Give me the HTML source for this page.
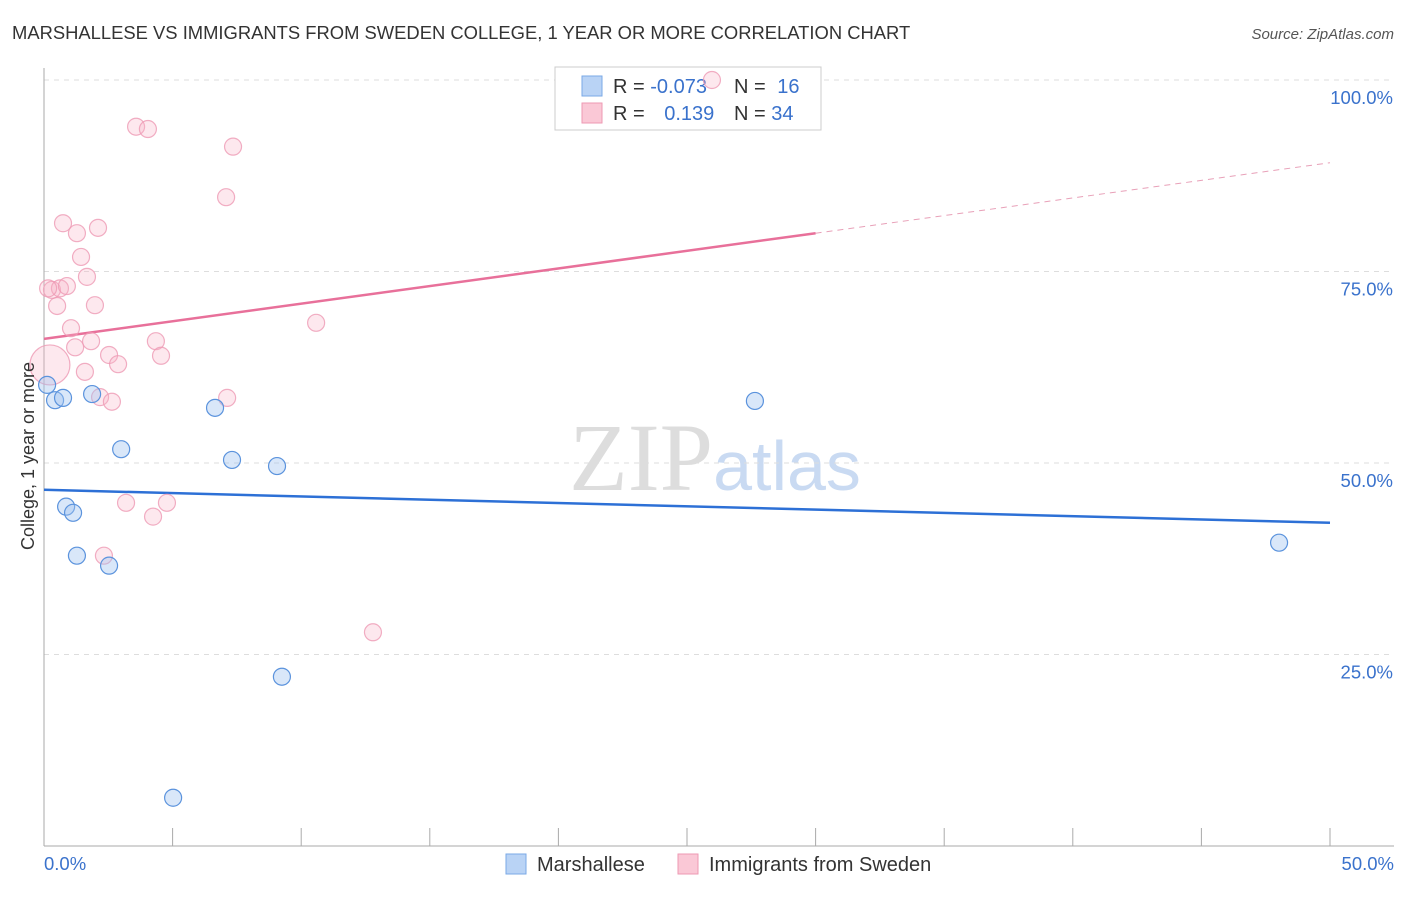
<!DOCTYPE html>
<html><head><meta charset="utf-8"><style>
body{margin:0;background:#fff;font-family:"Liberation Sans",sans-serif}
</style></head><body>
<svg id="chart" width="1406" height="892" xmlns="http://www.w3.org/2000/svg" font-family="Liberation Sans, sans-serif">
<text x="12" y="39" font-size="18.4" fill="#333">MARSHALLESE VS IMMIGRANTS FROM SWEDEN COLLEGE, 1 YEAR OR MORE CORRELATION CHART</text>
<text x="1394" y="39" font-size="15" fill="#555" text-anchor="end" font-style="italic">Source: ZipAtlas.com</text>
<text x="715" y="490" font-size="96" text-anchor="middle" fill="#ddd" font-family="Liberation Serif, serif">ZIP<tspan fill="#c9daf2" font-family="Liberation Sans, sans-serif" font-size="70">atlas</tspan></text>
<g id="grid"></g><g id="axes"></g><g id="lines"></g>
<g>
<rect x="555" y="67" width="266" height="63" fill="#fff" stroke="#ccc"/>
<rect x="582" y="76" width="20" height="20" fill="#b9d3f5" stroke="#7aa8e6"/>
<rect x="582" y="103" width="20" height="20" fill="#fac8d6" stroke="#ee99b3"/>
<text x="613" y="93" font-size="20" fill="#333">R = <tspan fill="#3a72cc">-0.073</tspan></text>
<text x="734" y="93" font-size="20" fill="#333">N = <tspan fill="#3a72cc" dx="6">16</tspan></text>
<text x="613" y="120" font-size="20" fill="#333">R = <tspan fill="#3a72cc" dx="14">0.139</tspan></text>
<text x="734" y="120" font-size="20" fill="#333">N = <tspan fill="#3a72cc">34</tspan></text>
</g>
<g id="pts"></g>
<text transform="translate(34,456) rotate(-90)" font-size="18" fill="#333" text-anchor="middle">College, 1 year or more</text>
<g>
<rect x="506" y="854" width="20" height="20" fill="#b9d3f5" stroke="#7aa8e6"/>
<text x="537" y="871" font-size="20" fill="#333">Marshallese</text>
<rect x="678" y="854" width="20" height="20" fill="#fac8d6" stroke="#ee99b3"/>
<text x="709" y="871" font-size="20" fill="#333">Immigrants from Sweden</text>
</g>
</svg>
<script>
const yTicks=[25,50,75,100];
const yTickLabels=["25.0%","50.0%","75.0%","100.0%"];
const xEndLabels=["0.0%","50.0%"];
const blueX=[0.12,0.43,0.74,1.87,3.0,0.86,1.13,1.28,2.53,6.65,7.31,9.06,9.25,5.02,27.64,48.02];
const blueY=[60.2,58.2,58.5,59.0,51.8,44.3,43.5,37.9,36.6,57.2,50.4,49.6,22.1,6.3,58.1,39.6];
const pinkX=[0.74,1.28,2.10,1.44,1.67,0.31,0.62,0.89,0.51,1.98,1.05,1.83,1.21,2.53,2.88,1.59,2.18,2.64,3.58,4.04,7.35,7.08,10.58,4.35,4.55,7.12,3.19,4.24,4.78,2.33,12.79,25.97,0.16,0.23];
const pinkY=[81.3,80.0,80.7,76.9,74.3,72.6,72.8,73.1,70.5,70.6,67.6,65.9,65.1,64.1,62.9,61.9,58.6,58.0,93.9,93.6,91.3,84.7,68.3,65.9,64.0,58.5,44.8,43.0,44.8,37.9,27.9,100.0,72.8,62.8];
const pinkR=[8.5,8.5,8.5,8.5,8.5,8.5,8.5,8.5,8.5,8.5,8.5,8.5,8.5,8.5,8.5,8.5,8.5,8.5,8.5,8.5,8.5,8.5,8.5,8.5,8.5,8.5,8.5,8.5,8.5,8.5,8.5,8.5,8.5,20];
const blueTrend=[46.5,42.2];
const pinkTrend=[66.2,89.2];
const pinkSolidEnd=30;
const NS="http://www.w3.org/2000/svg";
const X=v=>44+v/50*1286, Y=v=>846-v/100*766;
function mk(p,t,a){const e=document.createElementNS(NS,t);for(const k in a)e.setAttribute(k,a[k]);document.getElementById(p).appendChild(e);return e;}
yTicks.forEach((t,i)=>{
 const g=mk('grid','line',{x1:44,x2:1394,y1:Y(t),y2:Y(t),stroke:'#ddd','stroke-dasharray':'5,5'});
 
 
 const l=mk('grid','text',{x:1393,y:Y(t)+24,'font-size':18.5,fill:'#3a72cc','text-anchor':'end'});l.textContent=yTickLabels[i];
 
 
});
mk('axes','line',{x1:44,x2:44,y1:68,y2:846,stroke:'#aaa'});
mk('axes','line',{x1:44,x2:1394,y1:846,y2:846,stroke:'#aaa'});
for(let i=0;i<=10;i++){const x=X(i*5);mk('axes','line',{x1:x,x2:x,y1:828,y2:846,stroke:'#aaa'});}
[[0,'start',44],[50,'end',1394]].forEach((d,i)=>{const t=mk('axes','text',{x:d[2],y:870,'font-size':18.5,fill:'#3a72cc','text-anchor':d[1]});t.textContent=xEndLabels[i];
 
 });
const bl=mk('lines','line',{x1:X(0),y1:Y(blueTrend[0]),x2:X(50),y2:Y(blueTrend[1]),stroke:'#2d70d6','stroke-width':2.5});


const py=v=>pinkTrend[0]+(pinkTrend[1]-pinkTrend[0])*v/50;
const pl=mk('lines','line',{x1:X(0),y1:Y(py(0)),x2:X(pinkSolidEnd),y2:Y(py(pinkSolidEnd)),stroke:'#e8709a','stroke-width':2.5});


const pd=mk('lines','line',{x1:X(pinkSolidEnd),y1:Y(py(pinkSolidEnd)),x2:X(50),y2:Y(py(50)),stroke:'#e8a0b8','stroke-width':1,'stroke-dasharray':'6,5'});


pinkX.forEach((v,i)=>{const c=mk('pts','circle',{cx:X(v),cy:Y(pinkY[i]),r:pinkR[i],fill:'rgba(248,180,200,0.3)',stroke:'rgba(238,154,180,0.8)','stroke-width':1.2});
 
 });
blueX.forEach((v,i)=>{const c=mk('pts','circle',{cx:X(v),cy:Y(blueY[i]),r:8.5,fill:'rgba(160,195,240,0.4)',stroke:'#5b93dd','stroke-width':1.2});
 
 });
</script>
</body></html>
